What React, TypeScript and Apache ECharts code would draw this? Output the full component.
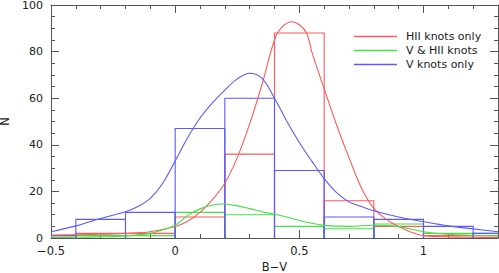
import React, { useEffect, useRef } from "react";
import * as echarts from "echarts";

// Histogram bins: [binStart, binEnd, count]
const redHist: number[][] = [
  [-0.6, -0.4, 1], [-0.4, -0.2, 2], [-0.2, 0, 2], [0, 0.2, 9], [0.2, 0.4, 36],
  [0.4, 0.6, 88], [0.6, 0.8, 16], [0.8, 1.0, 5], [1.0, 1.2, 1], [1.2, 1.4, 1],
];
const greenHist: number[][] = [
  [-0.4, -0.2, 1], [-0.2, 0, 1], [0, 0.2, 11], [0.2, 0.4, 10], [0.4, 0.6, 5],
  [0.6, 0.8, 4], [0.8, 1.0, 6], [1.0, 1.2, 2], [1.2, 1.4, 2],
];
const blueHist: number[][] = [
  [-0.6, -0.4, 1], [-0.4, -0.2, 8], [-0.2, 0, 11], [0, 0.2, 47], [0.2, 0.4, 60],
  [0.4, 0.6, 29], [0.6, 0.8, 9], [0.8, 1.0, 8], [1.0, 1.2, 5], [1.2, 1.4, 2],
];

// Smooth fitted curves: [B-V, N]
const redCurve: number[][] = [
  [-0.5, 1.3], [-0.4, 1.4], [-0.3, 1.6], [-0.2, 2.0], [-0.1, 2.7], [0, 4.9],
  [0.05, 7.2], [0.1, 11], [0.15, 16.5], [0.2, 23.5], [0.25, 34.5], [0.3, 49],
  [0.35, 66], [0.4, 85], [0.43, 90.5], [0.47, 92.8], [0.5, 91.5], [0.53, 87.8],
  [0.55, 80], [0.6, 64], [0.65, 48.5], [0.7, 34.5], [0.75, 21.5], [0.8, 12.7],
  [0.85, 8], [0.9, 4.9], [0.95, 2.5], [1.0, 1], [1.1, 0.5], [1.2, 0.3], [1.3, 0.2],
];
const greenCurve: number[][] = [
  [-0.5, 0.2], [-0.4, 0.3], [-0.3, 0.5], [-0.2, 0.9], [-0.1, 2], [-0.05, 3.5],
  [0, 5.5], [0.05, 9.6], [0.1, 12.5], [0.15, 14.2], [0.19, 14.6], [0.25, 13.8],
  [0.3, 12.6], [0.35, 11.3], [0.4, 10.2], [0.45, 9], [0.5, 7.5], [0.55, 6.3],
  [0.6, 5.4], [0.7, 5], [0.8, 5.5], [0.9, 4.9], [1.0, 2.7], [1.1, 1.6],
  [1.2, 1.2], [1.3, 0.9],
];
const blueCurve: number[][] = [
  [-0.5, 2.7], [-0.4, 5.2], [-0.3, 8.4], [-0.2, 11.3], [-0.15, 13.5], [-0.1, 17],
  [-0.05, 23.5], [0, 33], [0.05, 43], [0.1, 51.5], [0.15, 58], [0.2, 63.5],
  [0.25, 68.3], [0.3, 70.7], [0.35, 68.5], [0.4, 60], [0.45, 50], [0.5, 41],
  [0.55, 33], [0.6, 25.5], [0.65, 19.5], [0.7, 15.5], [0.75, 13.5], [0.8, 11.7],
  [0.9, 9], [1.0, 7], [1.1, 5.2], [1.2, 3.9], [1.3, 2.7],
];

const seriesNames = ["HII knots only", "V & HII knots", "V knots only"];
const xTicks = { min: -0.5, max: 1.3, interval: 0.5 };
const yTicks = { min: 0, max: 100, interval: 20 };

const RED = "#ff5a5a";
const GREEN = "#44e044";
const BLUE = "#5a5aff";
const AXIS = "#555";
const TEXT = "#222";
const FONT = "DejaVu Sans";

function histSeries(data: number[][], color: string) {
  return {
    type: "custom",
    xAxisIndex: 0,
    yAxisIndex: 0,
    silent: true,
    data,
    renderItem: (params: any, api: any) => {
      const cs = params.coordSys;
      const x0 = api.value(0);
      const x1 = api.value(1);
      const v = api.value(2);
      const pBase0 = api.coord([x0, 0]);
      const pTop1 = api.coord([x1, v]);
      const left = cs.x;
      const right = cs.x + cs.width;
      let a = pBase0[0];
      const b = pTop1[0];
      const yb = pBase0[1];
      const yt = pTop1[1];
      const pts: number[][] = [];
      if (a >= left) pts.push([a, yb]);
      a = Math.max(a, left);
      const bc = Math.min(b, right);
      pts.push([a, yt]);
      pts.push([bc, yt]);
      if (b <= right) pts.push([b, yb]);
      return {
        type: "polyline",
        shape: { points: pts },
        style: { fill: "none", stroke: color, lineWidth: 1.1 },
      };
    },
  };
}

function curveSeries(name: string, data: number[][], color: string) {
  return {
    type: "line",
    name,
    xAxisIndex: 0,
    yAxisIndex: 0,
    data,
    smooth: 0.35,
    symbol: "none",
    showSymbol: false,
    lineStyle: { color, width: 1.1 },
    itemStyle: { color },
  };
}

const axisCommon = {
  axisLine: { show: true, onZero: false, lineStyle: { color: AXIS, width: 1 } },
  axisTick: { show: true, inside: true, length: 8, lineStyle: { color: AXIS } },
  minorTick: { show: true, length: 4, lineStyle: { color: AXIS } },
  splitLine: { show: false },
  minorSplitLine: { show: false },
};

const LEGEND_ICON = "path://M0,0H43V1.5H0Z";

export default function App() {
  const ref = useRef<HTMLDivElement>(null);
  useEffect(() => {
    if (!ref.current) return;
    const chart = echarts.init(ref.current, undefined, { renderer: "svg" });
    const fmt = (v: number) => (v < 0 ? "\u2212" + String(Math.abs(v)) : String(v));
    chart.setOption({
      animation: false,
      grid: {
        left: 51,
        right: 1,
        top: 5,
        bottom: 35,
        containLabel: false,
        outerBoundsMode: "none",
      },
      legend: {
        orient: "vertical",
        left: 349,
        top: 26,
        itemWidth: 43,
        itemHeight: 10,
        itemGap: 3,
        symbolKeepAspect: true,
        data: seriesNames.map((n) => ({ name: n, icon: LEGEND_ICON })),
        textStyle: { fontFamily: FONT, fontSize: 11, color: TEXT, padding: [0, 0, 0, 4] },
        selectedMode: false,
      },
      xAxis: [
        {
          type: "value",
          position: "bottom",
          ...xTicks,
          ...axisCommon,
          minorTick: { ...axisCommon.minorTick, splitNumber: 5 },
          axisLabel: {
            show: true,
            margin: 7,
            formatter: fmt,
            showMaxLabel: false,
            fontFamily: FONT,
            fontSize: 11.5,
            lineHeight: 11,
            color: TEXT,
          },
          name: "B\u2212V",
          nameLocation: "middle",
          nameGap: 22,
          nameTextStyle: { fontFamily: FONT, fontSize: 11.5, lineHeight: 10, color: TEXT },
        },
        {
          type: "value",
          position: "top",
          ...xTicks,
          ...axisCommon,
          minorTick: { ...axisCommon.minorTick, splitNumber: 5 },
          axisLabel: { show: false },
        },
      ],
      yAxis: [
        {
          type: "value",
          position: "left",
          ...yTicks,
          ...axisCommon,
          minorTick: { ...axisCommon.minorTick, splitNumber: 4 },
          axisLabel: {
            show: true,
            margin: 8,
            fontFamily: FONT,
            fontSize: 11,
            lineHeight: 9,
            color: TEXT,
          },
          name: "N",
          nameLocation: "middle",
          nameGap: 31,
          nameRotate: 90,
          nameTextStyle: { fontFamily: FONT, fontSize: 11.5, lineHeight: 10, color: TEXT },
        },
        {
          type: "value",
          position: "right",
          ...yTicks,
          ...axisCommon,
          minorTick: { ...axisCommon.minorTick, splitNumber: 4 },
          axisLabel: { show: false },
        },
      ],
      series: [
        histSeries(redHist, RED),
        histSeries(greenHist, GREEN),
        histSeries(blueHist, BLUE),
        curveSeries(seriesNames[0], redCurve, RED),
        curveSeries(seriesNames[1], greenCurve, GREEN),
        curveSeries(seriesNames[2], blueCurve, BLUE),
      ],
    });
    return () => chart.dispose();
  }, []);
  return (
    <div
      ref={ref}
      style={{ position: "absolute", left: 0, top: 0, width: 499, height: 273 }}
    />
  );
}
